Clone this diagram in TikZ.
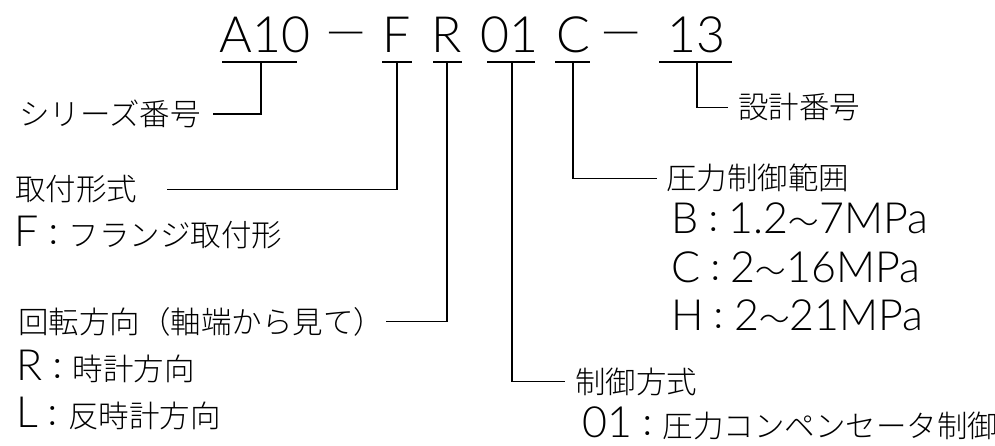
\documentclass[tikz,border=0pt]{standalone}
\usepackage{fontspec}
\usepackage{graphicx}
\IfFontExistsTF{Noto Sans CJK JP Light}{\setmainfont{Noto Sans CJK JP Light}}{%
  \IfFontExistsTF{Noto Sans CJK JP DemiLight}{\setmainfont{Noto Sans CJK JP DemiLight}}{%
    \setmainfont{Noto Sans CJK JP}}}
\IfFontExistsTF{Lato Light}{\newfontfamily\latf{Lato Light}}{%
  \IfFontExistsTF{Fira Sans Light}{\newfontfamily\latf{Fira Sans Light}}{%
    \newfontfamily\latf{Fira Sans}}}
\newcommand\cjkfs{\fontsize{30.5}{36}\selectfont}
\newcommand\LatTxt[1]{{\latf\fontsize{43}{43}\selectfont #1}}
\newcommand\titlefs{\latf\fontsize{50}{50}\selectfont}
\newcommand\tdash{\raisebox{5pt}{\scalebox{1.7}[1]{–}}}
\begin{document}
\begin{tikzpicture}[x=1pt,y=-1pt,
  lab/.style={inner sep=0pt, anchor=base west, font=\cjkfs},
  ttl/.style={inner sep=0pt, anchor=base, font=\titlefs},
  ln/.style={line width=1.8pt, line cap=butt}]
\useasboundingbox (0,0) rectangle (995,446);
% title
\node[ttl] (tA)  at (265,53) {A10};
\node[ttl] (tD1) at (346,53) {\tdash};
\node[ttl] (tF)  at (397,53) {F};
\node[ttl] (tR)  at (447,53) {R};
\node[ttl] (t01) at (509,53) {01};
\node[ttl] (tC)  at (573,53) {C};
\node[ttl] (tD2) at (621,53) {\tdash};
\node[ttl] (t13) at (696,53) {13};
% underline coordinates
\coordinate (uAl) at (222,62); \coordinate (uAr) at (297,62); \coordinate (uA) at (261,62);
\coordinate (uFl) at (382,62); \coordinate (uFr) at (412,62); \coordinate (uF) at (397,62);
\coordinate (uRl) at (433,62); \coordinate (uRr) at (462,62); \coordinate (uR) at (447,62);
\coordinate (u01l) at (487,62); \coordinate (u01r) at (535,62); \coordinate (u01) at (512,62);
\coordinate (uCl) at (555,62); \coordinate (uCr) at (590,62); \coordinate (uC) at (573,62);
\coordinate (u13l) at (659,62); \coordinate (u13r) at (732,62); \coordinate (u13) at (697,62);
\foreach \s in {A,F,R,01,C,13} \draw[ln] (u\s l) -- (u\s r);
% left labels
\node[lab] (nSer)   at (19,126) {シリーズ番号};
\node[lab] (nMount) at (15,201) {取付形式};
\node[lab] (nMountF) at (14,247) {\LatTxt{F}：フランジ取付形};
\node[lab] (nRot)   at (18,333) {回転方向（軸端から見て）};
\node[lab] (nRotR)  at (16,380) {\LatTxt{R}：時計方向};
\node[lab] (nRotL)  at (16,427) {\LatTxt{L}：反時計方向};
% right labels
\node[lab] (nDes)   at (738,119) {設計番号};
\node[lab] (nPr)    at (666,190) {圧力制御範囲};
\node[lab] (nPrB)   at (671,234) {\LatTxt{B}：\LatTxt{1.2}～\LatTxt{7MPa}};
\node[lab] (nPrC)   at (671,282) {\LatTxt{C}：\LatTxt{2}～\LatTxt{16MPa}};
\node[lab] (nPrH)   at (671,330) {\LatTxt{H}：\LatTxt{2}～\LatTxt{21MPa}};
\node[lab] (nCtl)   at (575,393) {制御方式};
\node[lab] (nCtl01) at (582,437) {\LatTxt{01}：圧力コンペンセータ制御};
% connectors
\draw[ln, shorten >=12pt] (uA) |- (nSer.east);
\draw[ln, shorten >=30pt] (uF) |- (nMount.east);
\draw[ln, shorten >=2pt]  (uR) |- (nRot.east);
\draw[ln, shorten >=10pt] (u01) |- (nCtl.west);
\draw[ln, shorten >=9pt]  (uC) |- (nPr.west);
\draw[ln, shorten >=10pt] (u13) |- (nDes.west);
\end{tikzpicture}
\end{document}
